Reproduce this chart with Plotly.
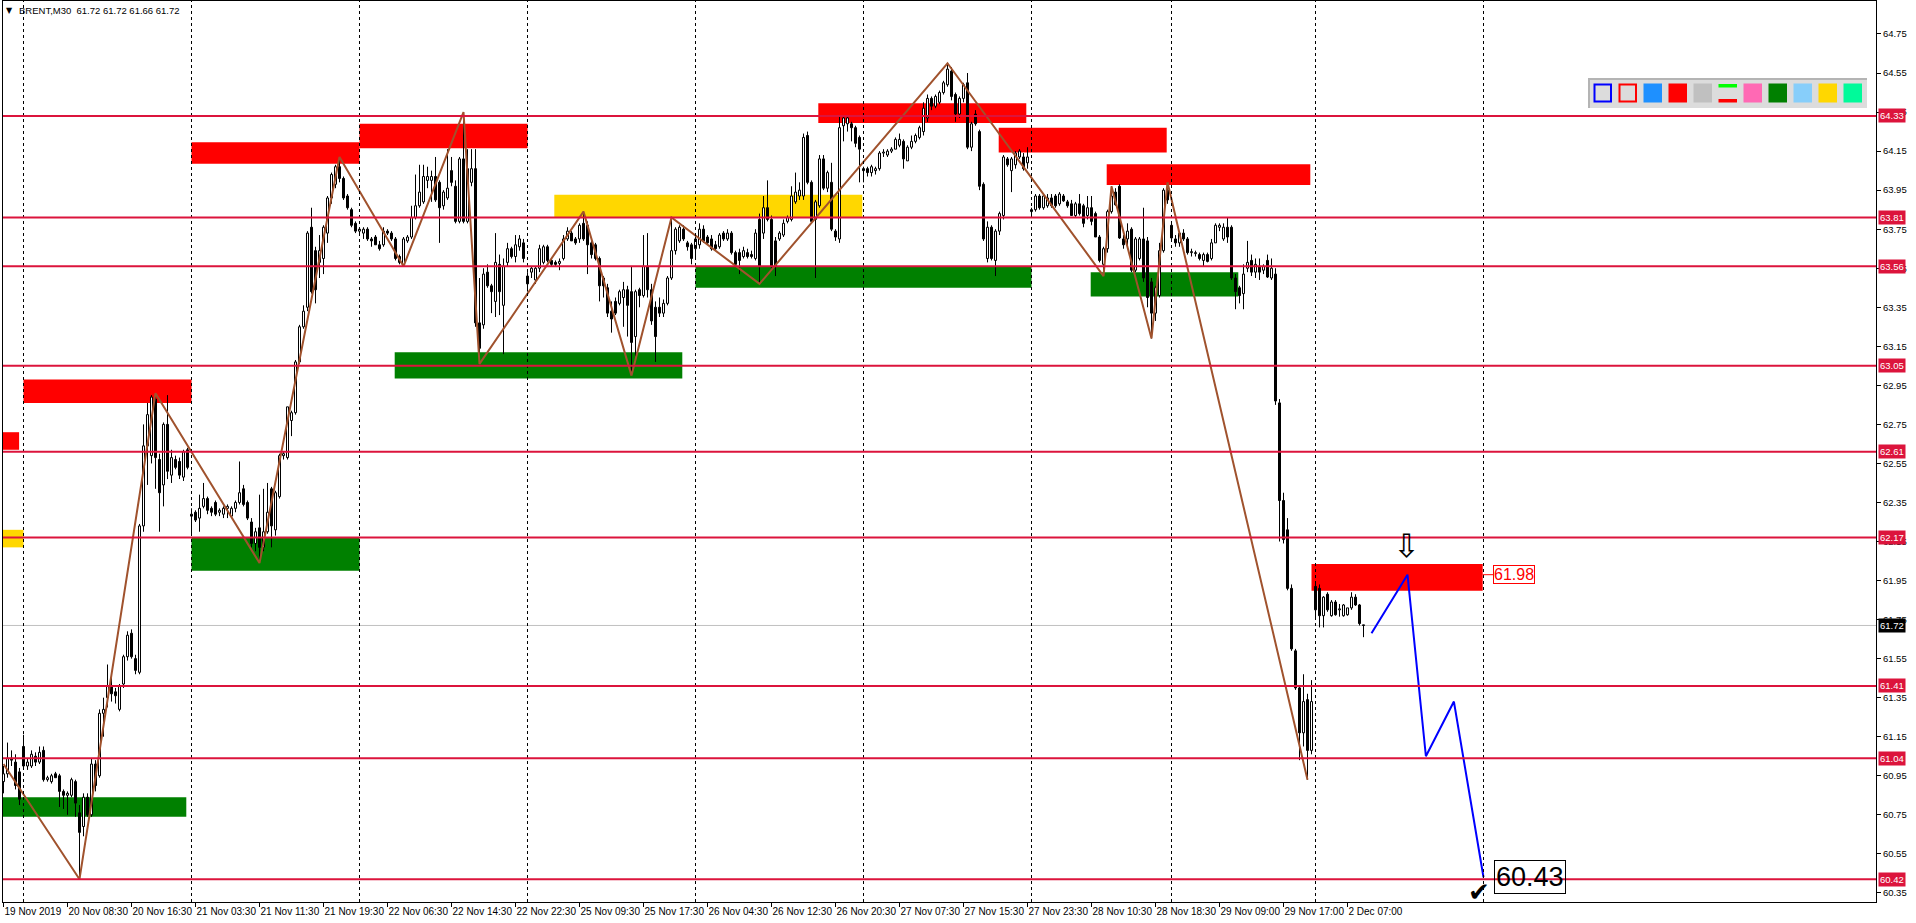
import plotly.graph_objects as go

# ---------------------------------------------------------------- data
# BRENT M30 candles, one entry per bar (bar index = position on the time axis)
bar_open = [
    60.92, 60.96, 61.04, 61.02, 60.97,
    61.10, 61.00, 61.00, 61.05, 61.02, 61.08, 60.93, 60.92, 60.96, 60.95, 60.87, 60.85, 60.85, 60.92, 60.76, 60.69, 60.84, 60.75, 61.01, 60.95, 61.27, 61.35, 61.41, 61.38, 61.29, 61.42, 61.56, 61.68, 61.55, 61.48, 62.23, 62.64, 62.59, 62.88, 62.57, 62.44, 62.75, 62.49, 62.57, 62.56, 62.48, 62.62,
    62.29, 62.30, 62.27, 62.33, 62.37, 62.32, 62.35, 62.30, 62.29, 62.32, 62.28, 62.32, 62.35, 62.42, 62.35, 62.25, 62.14, 62.22, 62.12, 62.20, 62.42, 62.21, 62.38, 62.59, 62.58, 62.77, 62.81, 63.07, 63.25, 63.35, 63.76, 63.64, 63.58, 63.60, 63.73, 63.91, 63.98, 64.07, 64.01, 63.92, 63.85, 63.78,
    63.74, 63.73, 63.75, 63.70, 63.71, 63.67, 63.67, 63.74, 63.73, 63.70, 63.61, 63.57, 63.69, 63.71, 63.81, 63.87, 63.89, 64.00, 64.00, 64.02, 63.99, 63.87, 63.91, 64.05, 63.97, 63.79, 64.11, 63.79, 63.99, 64.06, 63.27, 63.26, 63.53, 63.46, 63.38, 63.57, 63.36, 63.58, 63.65, 63.61, 63.66, 63.68,
    63.51, 63.53, 63.49, 63.55, 63.58, 63.66, 63.59, 63.58, 63.575, 63.60, 63.70, 63.73, 63.70, 63.70, 63.78, 63.77, 63.68, 63.67, 63.60, 63.50, 63.45, 63.33, 63.38, 63.37, 63.40, 63.44, 63.43, 63.20, 63.44, 63.41, 63.56, 63.44, 63.35, 63.35, 63.32, 63.37, 63.50, 63.64, 63.69, 63.75, 63.68, 63.67,
    63.65, 63.67, 63.75, 63.71, 63.70, 63.67, 63.66, 63.73, 63.70, 63.73, 63.63, 63.63, 63.61, 63.63, 63.62, 63.60, 63.80, 63.73, 63.86, 63.80, 63.69, 63.70, 63.72, 63.79, 63.80, 63.89, 63.92, 63.92, 64.23, 63.99, 63.80, 63.87, 64.11, 63.96, 63.99, 63.74, 63.70, 64.28, 64.29, 64.29, 64.27, 64.22,
    64.06, 64.06, 64.04, 64.05, 64.06, 64.14, 64.13, 64.15, 64.16, 64.18, 64.20, 64.10, 64.17, 64.20, 64.22, 64.25, 64.32, 64.42, 64.38, 64.40, 64.45, 64.49, 64.56, 64.44, 64.34, 64.42, 64.50, 64.17, 64.34, 64.25, 63.98, 63.60, 63.76, 63.59, 63.74, 63.82, 64.11, 64.05, 64.08, 64.12, 64.12, 64.09,
    63.84, 63.85, 63.92, 63.86, 63.87, 63.91, 63.92, 63.88, 63.92, 63.89, 63.88, 63.82, 63.88, 63.87, 63.82, 63.86, 63.83, 63.71, 63.57, 63.65, 63.84, 63.94, 63.97, 63.70, 63.70, 63.75, 63.54, 63.60, 63.70, 63.69, 63.48, 63.32, 63.41, 63.64, 63.95,
    63.77, 63.70, 63.68, 63.73, 63.70, 63.63, 63.625, 63.62, 63.59, 63.62, 63.60, 63.68, 63.76, 63.70, 63.76, 63.76, 63.50, 63.45, 63.42, 63.55, 63.59, 63.53, 63.56, 63.54, 63.59, 63.50, 63.52, 62.86, 62.36, 62.21, 61.91, 61.59, 61.40, 61.17, 61.34, 61.08,
    61.92, 61.91, 61.77, 61.88, 61.77, 61.84, 61.80, 61.77, 61.775, 61.81, 61.865, 61.825, 61.72,
]
bar_high = [
    61.00, 61.12, 61.08, 61.06, 60.99,
    61.16, 61.04, 61.08, 61.07, 61.10, 61.10, 60.95, 60.96, 60.97, 60.96, 60.88, 60.87, 60.94, 60.93, 60.80, 60.86, 60.86, 61.04, 61.03, 61.29, 61.35, 61.52, 61.46, 61.40, 61.42, 61.57, 61.69, 61.70, 61.57, 62.24, 62.75, 62.86, 62.90, 62.91, 62.60, 62.76, 62.90, 62.62, 62.59, 62.58, 62.62, 62.63,
    62.32, 62.31, 62.39, 62.45, 62.38, 62.33, 62.36, 62.32, 62.33, 62.34, 62.33, 62.36, 62.56, 62.44, 62.36, 62.27, 62.22, 62.39, 62.42, 62.45, 62.43, 62.41, 62.60, 62.61, 62.84, 62.82, 63.08, 63.26, 63.36, 63.74, 63.86, 63.66, 63.72, 63.77, 63.92, 64.04, 64.08, 64.12, 64.02, 63.93, 63.86, 63.79,
    63.76, 63.76, 63.76, 63.71, 63.72, 63.69, 63.76, 63.75, 63.74, 63.71, 63.62, 63.71, 63.72, 63.87, 64.03, 64.08, 64.08, 64.07, 64.05, 64.12, 64.00, 63.95, 64.16, 64.12, 64.00, 64.12, 64.35, 64.16, 64.16, 64.16, 63.50, 63.55, 63.57, 63.47, 63.73, 63.62, 63.60, 63.68, 63.66, 63.72, 63.72, 63.70,
    63.53, 63.56, 63.56, 63.67, 63.67, 63.67, 63.60, 63.59, 63.60, 63.72, 63.76, 63.74, 63.71, 63.78, 63.84, 63.79, 63.70, 63.68, 63.61, 63.51, 63.47, 63.38, 63.40, 63.44, 63.48, 63.46, 63.56, 63.44, 63.45, 63.72, 63.73, 63.47, 63.38, 63.40, 63.39, 63.51, 63.81, 63.76, 63.77, 63.77, 63.69, 63.68,
    63.72, 63.78, 63.77, 63.72, 63.72, 63.69, 63.73, 63.74, 63.75, 63.74, 63.64, 63.65, 63.66, 63.65, 63.64, 63.75, 63.83, 63.92, 64.00, 63.82, 63.71, 63.74, 63.80, 63.82, 63.97, 64.04, 63.99, 64.24, 64.25, 64.00, 63.90, 64.13, 64.13, 64.05, 64.09, 63.75, 64.33, 64.33, 64.33, 64.30, 64.28, 64.23,
    64.07, 64.07, 64.08, 64.07, 64.15, 64.16, 64.16, 64.17, 64.22, 64.24, 64.21, 64.18, 64.23, 64.24, 64.28, 64.40, 64.44, 64.43, 64.44, 64.46, 64.51, 64.60, 64.58, 64.45, 64.43, 64.50, 64.55, 64.30, 64.36, 64.26, 63.99, 63.79, 63.77, 63.75, 63.84, 64.13, 64.12, 64.12, 64.15, 64.16, 64.14, 64.17,
    63.86, 63.93, 63.93, 63.93, 63.93, 63.93, 63.93, 63.94, 63.93, 63.90, 63.90, 63.89, 63.93, 63.88, 63.92, 63.92, 63.84, 63.72, 63.66, 63.85, 63.97, 63.96, 63.98, 63.72, 63.78, 63.76, 63.71, 63.71, 63.86, 63.71, 63.50, 63.46, 63.68, 63.96, 63.99,
    63.78, 63.72, 63.74, 63.75, 63.71, 63.65, 63.64, 63.63, 63.63, 63.63, 63.70, 63.78, 63.78, 63.78, 63.81, 63.77, 63.52, 63.46, 63.57, 63.69, 63.62, 63.60, 63.60, 63.57, 63.62, 63.60, 63.55, 62.88, 62.40, 62.27, 61.93, 61.60, 61.41, 61.47, 61.37, 61.44,
    61.94, 61.93, 61.87, 61.89, 61.85, 61.85, 61.83, 61.83, 61.81, 61.89, 61.88, 61.83, 61.72,
]
bar_low = [
    60.86, 60.94, 61.00, 60.88, 60.80,
    60.99, 60.98, 60.99, 61.00, 61.01, 60.92, 60.92, 60.91, 60.94, 60.79, 60.78, 60.75, 60.84, 60.74, 60.42, 60.64, 60.74, 60.74, 60.87, 60.94, 61.15, 61.30, 61.33, 61.32, 61.28, 61.40, 61.54, 61.55, 61.47, 61.47, 62.20, 62.44, 62.55, 62.42, 62.20, 62.33, 62.47, 62.45, 62.52, 62.47, 62.46, 62.52,
    62.19, 62.25, 62.20, 62.32, 62.29, 62.28, 62.28, 62.28, 62.27, 62.27, 62.27, 62.30, 62.34, 62.33, 62.26, 62.12, 62.10, 62.04, 62.10, 62.19, 62.12, 62.18, 62.37, 62.57, 62.57, 62.69, 62.80, 63.06, 63.24, 63.33, 63.42, 63.37, 63.50, 63.52, 63.68, 63.88, 63.96, 63.99, 63.90, 63.85, 63.76, 63.73,
    63.72, 63.70, 63.69, 63.66, 63.67, 63.64, 63.66, 63.72, 63.69, 63.59, 63.57, 63.56, 63.68, 63.70, 63.80, 63.86, 63.88, 63.96, 63.89, 63.89, 63.68, 63.85, 63.90, 63.97, 63.78, 63.78, 63.78, 63.78, 63.97, 63.25, 63.06, 63.24, 63.45, 63.32, 63.30, 63.31, 63.11, 63.56, 63.60, 63.58, 63.64, 63.58,
    63.43, 63.50, 63.47, 63.53, 63.57, 63.58, 63.56, 63.56, 63.54, 63.59, 63.69, 63.69, 63.67, 63.68, 63.69, 63.52, 63.60, 63.59, 63.38, 63.40, 63.30, 63.22, 63.31, 63.36, 63.25, 63.20, 63.00, 63.10, 63.35, 63.40, 63.40, 63.26, 63.07, 63.30, 63.30, 63.36, 63.49, 63.62, 63.68, 63.69, 63.64, 63.57,
    63.60, 63.65, 63.68, 63.67, 63.64, 63.64, 63.65, 63.69, 63.69, 63.62, 63.56, 63.52, 63.60, 63.60, 63.60, 63.59, 63.47, 63.70, 63.79, 63.55, 63.51, 63.69, 63.71, 63.78, 63.79, 63.88, 63.90, 63.90, 63.98, 63.78, 63.50, 63.86, 63.95, 63.94, 63.74, 63.69, 63.68, 64.20, 64.25, 64.20, 64.17, 63.99,
    63.99, 64.02, 64.02, 64.03, 64.05, 64.12, 64.12, 64.14, 64.16, 64.17, 64.06, 64.10, 64.16, 64.19, 64.21, 64.23, 64.30, 64.36, 64.37, 64.39, 64.44, 64.48, 64.41, 64.30, 64.32, 64.40, 64.16, 64.15, 64.28, 63.95, 63.69, 63.58, 63.59, 63.51, 63.72, 63.80, 64.07, 63.94, 64.06, 64.11, 64.05, 64.06,
    63.82, 63.84, 63.85, 63.85, 63.86, 63.86, 63.86, 63.87, 63.89, 63.86, 63.82, 63.81, 63.82, 63.76, 63.80, 63.77, 63.71, 63.58, 63.51, 63.63, 63.83, 63.87, 63.70, 63.65, 63.66, 63.53, 63.53, 63.59, 63.48, 63.35, 63.19, 63.28, 63.40, 63.63, 63.88,
    63.70, 63.66, 63.66, 63.69, 63.62, 63.61, 63.61, 63.59, 63.56, 63.58, 63.59, 63.68, 63.74, 63.69, 63.68, 63.49, 63.34, 63.37, 63.34, 63.53, 63.51, 63.50, 63.49, 63.52, 63.50, 63.49, 62.85, 62.15, 62.14, 61.90, 61.59, 61.39, 61.03, 61.10, 60.93, 61.06,
    61.75, 61.71, 61.71, 61.79, 61.765, 61.77, 61.765, 61.765, 61.77, 61.80, 61.82, 61.72, 61.66,
]
bar_close = [
    60.96, 61.04, 61.03, 60.90, 60.83,
    61.00, 61.02, 61.06, 61.02, 61.07, 60.93, 60.94, 60.95, 60.94, 60.87, 60.85, 60.86, 60.93, 60.81, 60.66, 60.84, 60.75, 61.01, 60.90, 61.27, 61.29, 61.41, 61.37, 61.36, 61.41, 61.56, 61.67, 61.56, 61.49, 62.23, 62.64, 62.80, 62.89, 62.58, 62.40, 62.75, 62.51, 62.58, 62.53, 62.49, 62.61, 62.53,
    62.28, 62.26, 62.32, 62.37, 62.31, 62.30, 62.29, 62.31, 62.32, 62.33, 62.32, 62.35, 62.40, 62.34, 62.27, 62.14, 62.20, 62.12, 62.20, 62.30, 62.23, 62.40, 62.59, 62.60, 62.84, 62.81, 63.07, 63.25, 63.33, 63.73, 63.43, 63.44, 63.64, 63.76, 63.91, 64.03, 64.07, 64.01, 63.91, 63.86, 63.77, 63.74,
    63.75, 63.75, 63.70, 63.69, 63.67, 63.65, 63.74, 63.73, 63.70, 63.60, 63.58, 63.70, 63.71, 63.81, 63.87, 63.94, 64.02, 64.02, 64.02, 63.90, 63.86, 63.94, 63.96, 63.99, 63.79, 64.11, 63.79, 64.06, 64.06, 63.27, 63.14, 63.52, 63.46, 63.43, 63.58, 63.43, 63.56, 63.65, 63.61, 63.67, 63.70, 63.60,
    63.47, 63.55, 63.55, 63.65, 63.66, 63.59, 63.57, 63.57, 63.585, 63.70, 63.74, 63.69, 63.68, 63.77, 63.70, 63.67, 63.62, 63.60, 63.46, 63.46, 63.32, 63.29, 63.32, 63.43, 63.44, 63.36, 63.17, 63.43, 63.41, 63.56, 63.44, 63.28, 63.20, 63.32, 63.37, 63.50, 63.64, 63.75, 63.76, 63.70, 63.66, 63.60,
    63.70, 63.75, 63.69, 63.68, 63.65, 63.65, 63.72, 63.70, 63.73, 63.63, 63.57, 63.59, 63.64, 63.61, 63.61, 63.73, 63.56, 63.86, 63.80, 63.56, 63.56, 63.73, 63.78, 63.81, 63.92, 63.94, 63.95, 64.22, 63.99, 63.79, 63.89, 64.11, 63.96, 64.04, 63.75, 63.71, 64.27, 64.32, 64.32, 64.27, 64.19, 64.16,
    64.05, 64.04, 64.07, 64.06, 64.14, 64.145, 64.15, 64.16, 64.21, 64.21, 64.11, 64.17, 64.20, 64.23, 64.27, 64.37, 64.42, 64.38, 64.43, 64.45, 64.50, 64.57, 64.43, 64.34, 64.42, 64.49, 64.17, 64.29, 64.29, 63.97, 63.70, 63.76, 63.60, 63.74, 63.83, 64.12, 64.08, 64.11, 64.14, 64.15, 64.06, 64.12,
    63.85, 63.92, 63.86, 63.92, 63.91, 63.87, 63.87, 63.93, 63.895, 63.87, 63.82, 63.88, 63.83, 63.78, 63.86, 63.79, 63.71, 63.59, 63.65, 63.84, 63.92, 63.875, 63.705, 63.67, 63.74, 63.54, 63.70, 63.70, 63.50, 63.40, 63.32, 63.45, 63.64, 63.95, 63.90,
    63.705, 63.68, 63.73, 63.70, 63.63, 63.635, 63.63, 63.60, 63.62, 63.585, 63.68, 63.77, 63.77, 63.76, 63.71, 63.50, 63.43, 63.41, 63.52, 63.58, 63.53, 63.57, 63.53, 63.56, 63.505, 63.55, 62.87, 62.36, 62.16, 61.91, 61.60, 61.40, 61.17, 61.33, 61.08, 61.33,
    61.80, 61.77, 61.865, 61.80, 61.84, 61.775, 61.805, 61.825, 61.81, 61.865, 61.825, 61.73, 61.72,
]

# time-axis labels (one every 16 bars)
time_labels = ["19 Nov 2019", "20 Nov 08:30", "20 Nov 16:30", "21 Nov 03:30", "21 Nov 11:30",
               "21 Nov 19:30", "22 Nov 06:30", "22 Nov 14:30", "22 Nov 22:30", "25 Nov 09:30",
               "25 Nov 17:30", "26 Nov 04:30", "26 Nov 12:30", "26 Nov 20:30", "27 Nov 07:30",
               "27 Nov 15:30", "27 Nov 23:30", "28 Nov 10:30", "28 Nov 18:30", "29 Nov 09:00",
               "29 Nov 17:00", "2 Dec 07:00"]
label_bars = [16 * k for k in range(len(time_labels))]

# first bar of each trading day (period separators)
day_start_bars = [5, 47, 89, 131, 173, 215, 257, 292, 328, 370]

# horizontal support / resistance levels and current bid
levels = [64.33, 63.81, 63.56, 63.05, 62.61, 62.17, 61.41, 61.04, 60.42]
bid_price = 61.72

# ZigZag indicator vertices
zz_bar = [0, 19, 38, 64, 84, 100, 115, 119, 145, 157, 167, 189, 236, 275, 277, 287, 291, 326]
zz_price = [61.01, 60.42, 62.91, 62.04, 64.12, 63.56, 64.35, 63.06, 63.84, 63.00, 63.81, 63.47,
            64.60, 63.51, 63.97, 63.19, 63.99, 60.93]

# projected path (blue)
proj_bar = [342, 351, 355.6, 362.6, 370]
proj_price = [61.68, 61.98, 61.05, 61.33, 60.43]

# supply / demand zones
zone_bar0 = [5, -0.125, -0.125, -0.125, 47, 47, 89, 97.8, 137.7, 173, 203.7, 248.8, 275.8, 271.8, 327]
zone_bar1 = [47, 3.9, 5, 45.7, 89, 89, 131, 169.7, 214.7, 257, 255.7, 290.8, 326.7, 308.7, 369.8]
zone_lo = [62.86, 62.62, 62.12, 60.74, 64.085, 62.00, 64.165, 62.985, 63.813, 63.45, 64.294, 64.143, 63.976, 63.405, 61.898]
zone_hi = [62.98, 62.71, 62.21, 60.84, 64.195, 62.17, 64.29, 63.12, 63.926, 63.56, 64.395, 64.27, 64.083, 63.53, 62.035]
zone_kind = ["red", "red", "gold", "green", "red", "green", "red", "green", "gold", "green",
             "red", "red", "red", "green", "red"]

target_high = 61.98
target_low = 60.43
title_text = "BRENT,M30\u00a0\u00a061.72 61.72 61.66 61.72"

assert len(bar_open) == len(bar_high) == len(bar_low) == len(bar_close) == 341

# ---------------------------------------------------------------- geometry
W, H = 1916, 923
PL, PR, PT, PB = 3, 1876, 1, 902          # plot area in pixels
BARPX = 4.0                               # pixels per bar
X0 = -0.125
X1 = X0 + (PR - PL) / BARPX
Y_TOP, Y_BOT = 64.919, 60.3033

def pxx(px):
    return (px - PL) / (PR - PL)

def pxy(py):
    return (PB - py) / (PB - PT)

FONT = "Liberation Sans"
CRIMSON = "#dc143c"
ZCOL = {"red": "#ff0000", "green": "#008000", "gold": "#ffd700"}

# ---------------------------------------------------------------- candles
n = len(bar_close)
bull_x, bull_base, bull_h = [], [], []
bear_x, bear_base, bear_h = [], [], []
wick_x, wick_y = [], []
MINH = 0.003
for i in range(n):
    o, h, l, c = bar_open[i], bar_high[i], bar_low[i], bar_close[i]
    top, bot = max(o, c), min(o, c)
    hgt = max(top - bot, MINH)
    if c > o:
        bull_x.append(i); bull_base.append(bot); bull_h.append(hgt)
    else:
        bear_x.append(i); bear_base.append(bot); bear_h.append(hgt)
    if h > top:
        wick_x += [i, i, None]; wick_y += [top, h, None]
    if l < bot:
        wick_x += [i, i, None]; wick_y += [bot, l, None]

fig = go.Figure()
fig.add_trace(go.Scatter(x=wick_x, y=wick_y, mode="lines",
                         line=dict(color="black", width=1), hoverinfo="skip"))
fig.add_trace(go.Bar(x=bull_x, y=bull_h, base=bull_base, width=0.5,
                     marker=dict(color="white", line=dict(color="black", width=1)),
                     hoverinfo="skip"))
fig.add_trace(go.Bar(x=bear_x, y=bear_h, base=bear_base, width=0.5,
                     marker=dict(color="black", line=dict(color="black", width=1)),
                     hoverinfo="skip"))
fig.add_trace(go.Scatter(x=zz_bar, y=zz_price, mode="lines",
                         line=dict(color="#a0522d", width=2), hoverinfo="skip"))
fig.add_trace(go.Scatter(x=proj_bar, y=proj_price, mode="lines",
                         line=dict(color="#0000ff", width=2), hoverinfo="skip"))

shapes = []
# zones (behind candles)
for x0, x1, y0, y1, k in zip(zone_bar0, zone_bar1, zone_lo, zone_hi, zone_kind):
    shapes.append(dict(type="rect", xref="x", yref="y", x0=x0, x1=x1, y0=y0, y1=y1,
                       fillcolor=ZCOL[k], line=dict(width=0), layer="below"))
# bid line
shapes.append(dict(type="line", xref="paper", yref="y", x0=0, x1=1, y0=bid_price, y1=bid_price,
                   line=dict(color="#c0c0c0", width=1), layer="below"))
# day separators
for b in day_start_bars:
    shapes.append(dict(type="line", xref="x", yref="paper", x0=b, x1=b, y0=0, y1=1,
                       line=dict(color="black", width=1, dash="3px,3px"), layer="above"))
# level lines
for lv in levels:
    shapes.append(dict(type="line", xref="paper", yref="y", x0=0, x1=1, y0=lv, y1=lv,
                       line=dict(color=CRIMSON, width=2), layer="above"))
# connector from target zone to its label
shapes.append(dict(type="line", xref="x", yref="y", x0=369.8, x1=372.4, y0=target_high, y1=target_high,
                   line=dict(color="#ff0000", width=1), layer="above"))

# colour panel (top right)
shapes.append(dict(type="rect", xref="paper", yref="paper", x0=pxx(1588), x1=pxx(1867),
                   y0=pxy(108), y1=pxy(78), fillcolor="#dcdcdc", line=dict(width=0), layer="above"))
shapes.append(dict(type="rect", xref="paper", yref="paper", x0=pxx(1588), x1=pxx(1867),
                   y0=pxy(80), y1=pxy(78), fillcolor="#b4b4b4", line=dict(width=0), layer="above"))
shapes.append(dict(type="rect", xref="paper", yref="paper", x0=pxx(1588), x1=pxx(1590),
                   y0=pxy(108), y1=pxy(78), fillcolor="#b4b4b4", line=dict(width=0), layer="above"))
panel_fills = [None, None, "#1e90ff", "#ff0000", "#c0c0c0", None, "#ff69b4", "#008000",
               "#87cefa", "#ffd700", "#00fa9a"]
for k, col in enumerate(panel_fills):
    sx0 = 1593.5 + 25 * k
    sx1 = sx0 + 18.5
    if k == 0 or k == 1:
        shapes.append(dict(type="rect", xref="paper", yref="paper", x0=pxx(sx0 + 1), x1=pxx(sx1 - 1),
                           y0=pxy(101.5), y1=pxy(84.5), fillcolor="#dcdcdc",
                           line=dict(color="#0000ff" if k == 0 else "#ff0000", width=2), layer="above"))
    elif k == 5:
        shapes.append(dict(type="rect", xref="paper", yref="paper", x0=pxx(sx0), x1=pxx(sx1),
                           y0=pxy(87.5), y1=pxy(84), fillcolor="#00ff00", line=dict(width=0), layer="above"))
        shapes.append(dict(type="rect", xref="paper", yref="paper", x0=pxx(sx0), x1=pxx(sx1),
                           y0=pxy(102.5), y1=pxy(99), fillcolor="#ff0000", line=dict(width=0), layer="above"))
    else:
        shapes.append(dict(type="rect", xref="paper", yref="paper", x0=pxx(sx0), x1=pxx(sx1),
                           y0=pxy(102.5), y1=pxy(83.5), fillcolor=col, line=dict(width=0), layer="above"))

annotations = []
# right-axis price tags
for lv in levels:
    annotations.append(dict(xref="paper", yref="y", x=1, y=lv, xanchor="left", yanchor="middle",
                            xshift=2, text=f"{lv:.2f}", showarrow=False, bgcolor=CRIMSON,
                            borderpad=1, font=dict(family=FONT, size=9.5, color="white")))
annotations.append(dict(xref="paper", yref="y", x=1, y=bid_price, xanchor="left", yanchor="middle",
                        xshift=2, text=f"{bid_price:.2f}", showarrow=False, bgcolor="black",
                        borderpad=1, font=dict(family=FONT, size=9.5, color="white")))
# target labels
annotations.append(dict(xref="x", yref="y", x=372.4, y=target_high, xanchor="left", yanchor="middle",
                        text=f"{target_high:.2f}", showarrow=False, bgcolor="white",
                        bordercolor="#ff0000", borderwidth=1, borderpad=0,
                        font=dict(family=FONT, size=16, color="#ff0000")))
annotations.append(dict(xref="x", yref="y", x=372.7, y=target_low, xanchor="left", yanchor="middle",
                        text=f"{target_low:.2f}", showarrow=False,
                        bordercolor="black", borderwidth=1, borderpad=1,
                        font=dict(family=FONT, size=27, color="black")))
annotations.append(dict(xref="x", yref="y", x=368.9, y=60.352, xanchor="center", yanchor="middle",
                        text="\u2714", showarrow=False,
                        font=dict(family="DejaVu Sans", size=26, color="black")))
annotations.append(dict(xref="x", yref="y", x=350.75, y=62.127, xanchor="center", yanchor="middle",
                        text="\u21e9", showarrow=False,
                        font=dict(family="DejaVu Sans", size=32, color="black")))
# title
annotations.append(dict(xref="paper", yref="paper", x=pxx(4), y=pxy(10), xanchor="left",
                        yanchor="middle", text="\u25bc", showarrow=False,
                        font=dict(family="DejaVu Sans", size=8, color="black")))
annotations.append(dict(xref="paper", yref="paper", x=pxx(17), y=pxy(10), xanchor="left",
                        yanchor="middle", text=title_text, showarrow=False,
                        font=dict(family=FONT, size=9.5, color="black")))

fig.update_layout(
    width=W, height=H, autosize=False,
    margin=dict(l=PL, r=W - PR, t=PT, b=H - PB, pad=0),
    paper_bgcolor="white", plot_bgcolor="white",
    showlegend=False, hovermode=False, barmode="overlay",
    shapes=shapes, annotations=annotations,
    xaxis=dict(range=[X0, X1], tickmode="array", tickvals=label_bars, ticktext=time_labels,
               ticks="outside", ticklen=4, tickcolor="black", ticklabelposition="outside right",
               tickangle=0, automargin=False,
               tickfont=dict(family=FONT, size=10, color="black"),
               showgrid=False, zeroline=False, showline=True, linecolor="black", linewidth=1,
               mirror=True, fixedrange=True),
    yaxis=dict(range=[Y_BOT, Y_TOP], side="right", tickmode="linear", tick0=60.35, dtick=0.2,
               tickformat=".2f", ticks="outside", ticklen=4, tickcolor="black", automargin=False,
               tickfont=dict(family=FONT, size=9.5, color="black"),
               showgrid=False, zeroline=False, showline=True, linecolor="black", linewidth=1,
               mirror=True, fixedrange=True),
)

fig.write_html("out.html", config={"displayModeBar": False},
               post_script="document.body.style.margin='0';document.body.style.overflow='hidden';")
